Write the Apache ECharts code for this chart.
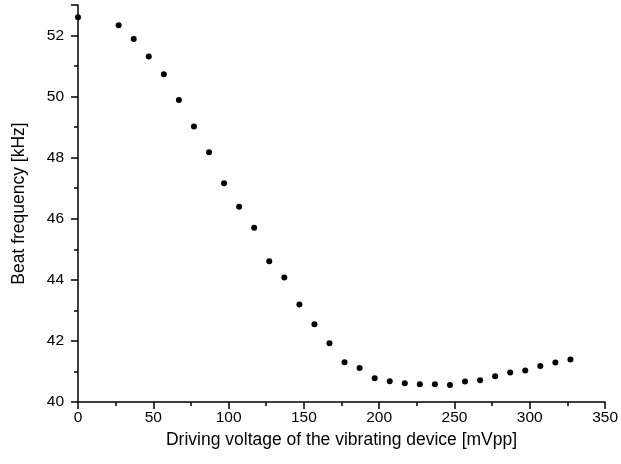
<!DOCTYPE html>
<html>
<head>
<meta charset="utf-8">
<script src="https://cdn.jsdelivr.net/npm/echarts@6/dist/echarts.min.js"></script>
<style>
  html, body { margin: 0; padding: 0; background: #fff; }
  #chart { width: 621px; height: 464px; }
</style>
</head>
<body>
<div id="chart"></div>
<script>
// Driving voltage (mVpp) and measured beat frequency (kHz)
const voltage = [0, 27, 37, 47, 57, 67, 77, 87, 97, 107, 117, 127, 137, 147, 157, 167,
                 177, 187, 197, 207, 217, 227, 237, 247, 257, 267, 277, 287, 297, 307, 317, 327];
const beatFreq = [52.60, 52.34, 51.89, 51.31, 50.73, 49.89, 49.02, 48.18, 47.16, 46.39, 45.71,
                  44.61, 44.08, 43.19, 42.55, 41.92, 41.30, 41.11, 40.78, 40.68, 40.61, 40.58,
                  40.58, 40.56, 40.67, 40.71, 40.84, 40.97, 41.03, 41.18, 41.29, 41.39];

const xTitle = 'Driving voltage of the vibrating device [mVpp]';
const yTitle = 'Beat frequency [kHz]';

const points = voltage.map((v, i) => [v, beatFreq[i]]);

const font = 'Arial, "Liberation Sans", sans-serif';
const axisCommon = {
  axisLine: { show: true, onZero: false, lineStyle: { color: '#000', width: 1.5 } },
  axisTick: { show: true, inside: false, length: 7, lineStyle: { color: '#000', width: 1.5 } },
  minorTick: { show: true, splitNumber: 2, length: 4, lineStyle: { color: '#000', width: 1.5 } },
  splitLine: { show: false },
  axisLabel: { color: '#000', fontSize: 15.5, fontFamily: font },
  nameTextStyle: { color: '#000', fontSize: 17.5, fontFamily: font }
};

const chart = echarts.init(document.getElementById('chart'), null, { renderer: 'canvas' });
chart.setOption({
  animation: false,
  backgroundColor: '#fff',
  grid: { left: 78, right: 12, top: 5, bottom: 62, containLabel: false },
  xAxis: Object.assign({}, axisCommon, {
    type: 'value', min: 0, max: 350, interval: 50,
    name: xTitle, nameLocation: 'middle', nameGap: 29,
    axisLabel: Object.assign({}, axisCommon.axisLabel, { margin: 8 })
  }),
  yAxis: Object.assign({}, axisCommon, {
    type: 'value', min: 40, max: 53, interval: 2,
    name: yTitle, nameLocation: 'middle', nameGap: 50,
    axisLabel: Object.assign({}, axisCommon.axisLabel, {
      margin: 14,
      formatter: v => (v % 2 === 0 ? String(v) : '')
    })
  }),
  series: [{
    type: 'scatter',
    data: points,
    symbol: 'circle',
    symbolSize: 6,
    itemStyle: { color: '#000', opacity: 1 },
    clip: false
  }]
});
</script>
</body>
</html>
